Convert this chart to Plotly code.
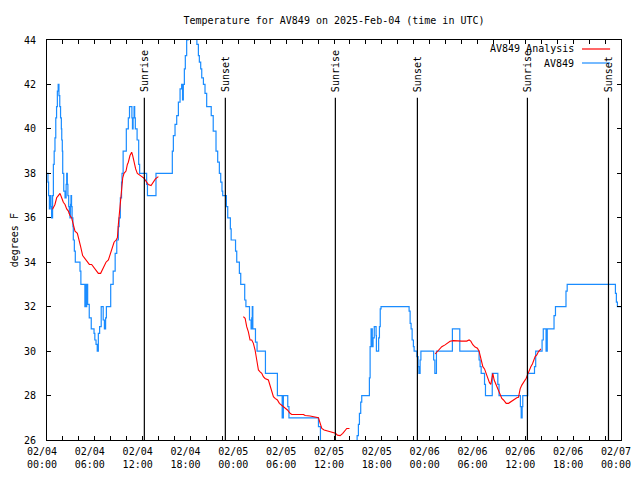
import plotly.graph_objects as go

# ---------------- data ----------------
# hours since 2025-02-04 00:00 UTC
obs_hours = [0.00, 0.12, 0.2, 0.3, 0.4, 0.5, 0.58, 0.7, 0.8, 0.9, 1.0, 1.1, 1.2, 1.3, 1.4, 1.5, 1.6, 1.7,
             1.8, 1.85, 1.92, 1.97, 2.1, 2.26, 2.4, 2.47, 2.55, 2.62, 2.72, 2.8, 2.88, 2.95, 3.01, 3.08,
             3.15, 3.25, 3.3, 3.43, 3.55, 4.14, 4.25, 4.75, 4.8, 4.9, 4.98, 5.1, 5.3, 5.55, 5.9, 6.0,
             6.15, 6.3, 6.44, 6.6, 6.8, 7.05, 7.2, 7.35, 7.45, 7.99, 8.3, 8.55, 8.75, 8.95, 9.05, 9.2,
             9.35, 9.41, 9.55, 9.95, 10.2, 10.35, 10.65, 10.72, 10.8, 10.92, 11.0, 11.08, 11.3, 11.5,
             11.62, 12.5, 12.6, 13.67, 15.72, 15.85, 16.06, 16.27, 16.48, 16.69, 16.89, 17.0, 17.1,
             17.23, 17.35, 17.52, 17.7, 18.0, 18.6, 18.8, 18.99, 19.11, 19.28, 19.41, 19.62, 19.82,
             20.03, 20.6, 20.85, 21.2, 21.41, 21.62, 21.79, 21.95, 22.04, 22.5, 22.67, 23.0, 23.1,
             23.65, 23.8, 24.13, 24.3, 24.8, 24.95, 25.4, 25.6, 25.68, 25.75, 25.82, 26.15, 26.35,
             27.4, 28.9, 29.5, 29.65, 30.2, 30.35, 34.05, 34.3, 38.9, 39.06, 39.19, 39.35, 39.48,
             40.44, 40.53, 40.65, 40.8, 40.9, 41.05, 41.28, 41.32, 41.6, 41.7, 41.8, 41.9, 45.42,
             45.55, 45.67, 45.8, 45.96, 46.05, 46.4, 46.55, 46.65, 46.8, 46.9, 48.5, 48.65, 48.85,
             50.85, 51.78, 54.2, 54.33, 54.46, 54.88, 55.0, 55.85, 56.55, 56.7, 59.38, 59.48, 59.6,
             59.68, 60.3, 61.15, 61.3, 62.1, 62.25, 62.6, 62.75, 63.6, 63.78, 65.1, 65.25, 71.3,
             71.42, 71.55, 72.0]
obs_temps = [38.0, 37.6, 37.0, 36.4, 37.0, 36.5, 36.0, 37.0, 38.4, 39.0, 39.6, 40.5, 41.0, 41.7, 42.0, 41.5, 41.0, 40.5,
             40.0, 39.5, 39.0, 38.0, 37.2, 36.9, 37.5, 38.0, 37.5, 37.0, 36.5, 36.2, 36.0, 36.6, 37.0, 36.5,
             36.0, 35.6, 35.0, 34.5, 34.0, 33.6, 33.0, 32.0, 33.0, 32.0, 33.0, 32.1, 31.5, 31.0, 30.8, 30.5,
             30.3, 30.0, 30.8, 31.1, 32.0, 31.4, 31.0, 31.5, 32.0, 33.0, 33.6, 34.4, 35.0, 35.6, 36.0, 36.9,
             37.6, 38.0, 39.0, 40.0, 40.5, 41.0, 40.5, 40.0, 40.5, 41.0, 40.5, 40.0, 39.5, 38.4,
             38.0, 37.5, 37.0, 38.0, 39.0, 39.7, 40.2, 40.6, 41.2, 41.8, 42.0, 41.3, 42.0,
             42.7, 43.3, 44.0, 44.5, 45.0, 44.5, 43.8, 43.3, 43.0, 42.7, 42.3, 42.0, 41.6,
             41.0, 40.6, 39.9, 39.0, 38.5, 38.0, 37.6, 37.2, 37.0, 36.5, 36.0, 35.5, 35.0,
             34.5, 34.0, 33.5, 33.0, 32.3, 32.0, 31.4, 31.0, 31.5, 32.0, 31.0, 30.4, 30.0,
             29.0, 28.0, 27.0, 28.0, 27.5, 27.0, 26.6, 25.0, 26.2, 26.7, 27.2, 27.7, 28.0,
             28.8, 30.2, 31.0, 30.2, 30.6, 31.1, 30.7, 30.0, 30.6, 31.1, 31.9, 32.0, 31.8,
             31.25, 31.0, 30.5, 30.2, 30.0, 29.75, 29.3, 29.0, 29.6, 30.0, 29.6, 29.0, 30.0,
             31.0, 30.0, 29.6, 29.3, 29.0, 28.5, 28.0, 29.0, 28.5, 28.0, 27.5, 27.0, 27.5,
             28.0, 29.0, 29.3, 30.0, 30.5, 31.0, 30.0, 31.0, 31.6, 32.0, 32.7, 33.0, 32.6,
             32.2, 32.0, 32.0]

ana_hours_a = [0.65, 0.71, 1.0, 1.21, 1.42, 1.63, 1.84, 2.05, 2.26, 2.47, 2.68, 2.88, 3.09, 3.3, 3.51, 3.81,
               4.06, 4.22, 4.47, 4.68, 4.98, 5.31, 5.6, 5.81, 6.15, 6.44, 6.73, 6.86, 7.07, 7.4, 7.7, 7.9,
               8.11, 8.41, 8.66, 8.83, 8.95, 9.08, 9.24, 9.37, 9.5, 9.66, 9.91, 10.08, 10.2, 10.41, 10.62,
               10.75, 10.96, 11.12, 11.33, 11.58, 11.9, 12.17, 12.45, 12.71, 13.05, 13.34, 13.6, 13.97]
ana_temps_a = [36.4, 36.4, 36.6, 36.9, 37.0, 37.1, 36.9, 36.7, 36.6, 36.4, 36.3, 36.1, 36.0, 35.7, 35.4, 35.3,
               35.0, 34.7, 34.3, 34.2, 34.1, 33.9, 33.9, 33.8, 33.6, 33.5, 33.5, 33.6, 33.8, 34.0, 34.1, 34.3,
               34.6, 34.9, 35.0, 35.1, 35.7, 36.3, 36.9, 37.2, 37.8, 38.0, 38.1, 38.4, 38.5, 38.8, 38.95,
               38.8, 38.4, 38.2, 38.0, 37.95, 37.85, 37.78, 37.65, 37.5, 37.45, 37.63, 37.75, 37.85]

ana_hours_b = [24.63, 24.85, 25.05, 25.26, 25.47, 25.68, 25.89, 26.1, 26.31, 26.52, 26.73, 26.94, 27.14,
               27.35, 27.77, 27.98, 28.19, 28.4, 28.61, 28.9, 29.15, 29.45, 29.74, 29.99, 30.16, 30.49,
               30.7, 31.33, 32.17, 32.38, 33.0, 34.05, 34.26, 34.47, 34.76, 35.31, 35.85, 36.19, 36.43,
               36.77, 37.1, 37.4, 37.6, 37.94]
ana_temps_b = [31.55, 31.48, 31.1, 30.87, 30.5, 30.5, 30.35, 30.05, 29.6, 29.15, 29.07, 29.0, 28.85,
               28.77, 28.7, 28.47, 28.25, 27.95, 27.87, 27.8, 27.65, 27.57, 27.5, 27.42, 27.35, 27.2,
               27.15, 27.15, 27.15, 27.1, 27.08, 27.0, 26.75, 26.52, 26.45, 26.4, 26.35, 26.3, 26.22,
               26.2, 26.3, 26.45, 26.52, 26.52]

ana_hours_c = [48.68, 49.1, 49.52, 49.93, 50.35, 50.56, 50.98, 51.4, 52.03, 52.65, 52.95, 53.16, 53.41,
               53.7, 53.99, 54.2, 54.33, 54.46, 54.67, 54.88, 55.08, 55.25, 55.5, 55.67, 55.92, 56.09,
               56.34, 56.55, 56.84, 57.05, 57.26, 57.6, 57.89, 58.1, 58.43, 58.73, 58.93, 59.14, 59.35,
               59.56, 59.86, 60.11, 60.27, 60.52, 60.69, 60.9, 61.11, 61.23, 61.44, 61.65, 61.86, 61.94]
ana_temps_c = [29.87, 30.02, 30.2, 30.28, 30.38, 30.44, 30.47, 30.45, 30.45, 30.45, 30.5, 30.45, 30.29,
               30.18, 30.13, 30.0, 29.78, 29.6, 29.3, 29.2, 29.0, 28.78, 28.58, 28.5, 29.0, 28.7,
               28.47, 28.3, 28.0, 27.87, 27.8, 27.65, 27.65, 27.7, 27.8, 27.88, 27.9, 27.92, 28.3,
               28.47, 28.62, 28.78, 28.93, 29.2, 29.3, 29.43, 29.6, 29.75, 29.83, 29.98, 30.05, 30.1]

sun_hours = [12.21, 22.37, 36.17, 46.46, 60.26, 70.43]
sun_labels = ["Sunrise", "Sunset", "Sunrise", "Sunset", "Sunrise", "Sunset"]

tick_hours = [0, 6, 12, 18, 24, 30, 36, 42, 48, 54, 60, 66, 72]
tick_labels = ["02/04<br>00:00", "02/04<br>06:00", "02/04<br>12:00", "02/04<br>18:00",
               "02/05<br>00:00", "02/05<br>06:00", "02/05<br>12:00", "02/05<br>18:00",
               "02/06<br>00:00", "02/06<br>06:00", "02/06<br>12:00", "02/06<br>18:00",
               "02/07<br>00:00"]

title_text = "Temperature for AV849 on 2025-Feb-04 (time in UTC)"

# ---------------- figure ----------------
FONT = "DejaVu Sans Mono"
FS = 10
BLUE = "#1a8cff"
RED = "#ff0000"
W, H = 632, 472   # page body adds an 8 px offset in the 640x480 window

fig = go.Figure()
fig.add_trace(go.Scatter(x=obs_hours, y=obs_temps, mode="lines", line=dict(color=BLUE, width=1.2, shape="hv"),
                         name="AV849", showlegend=False))
for hx, ty in [(ana_hours_a, ana_temps_a), (ana_hours_b, ana_temps_b), (ana_hours_c, ana_temps_c)]:
    fig.add_trace(go.Scatter(x=hx, y=ty, mode="lines", line=dict(color=RED, width=1.1),
                             name="AV849 Analysis", showlegend=False))

y_top_line = 41.4
for h, lab in zip(sun_hours, sun_labels):
    fig.add_shape(type="line", x0=h, x1=h, y0=26, y1=y_top_line, xref="x", yref="y",
                  line=dict(color="black", width=1.2))
    fig.add_annotation(x=h, y=y_top_line, xref="x", yref="y", text=lab, textangle=-90,
                       showarrow=False, xanchor="center", yanchor="bottom", yshift=4,
                       font=dict(family=FONT, size=FS, color="black"))

# legend drawn manually (text right aligned with sample on the right)
leg = [("AV849 Analysis", RED, 0.9775), ("AV849", BLUE, 0.9425)]
for txt, col, yy in leg:
    fig.add_annotation(x=0.921, y=yy, xref="paper", yref="paper", text=txt, showarrow=False,
                       xanchor="right", yanchor="middle", font=dict(family=FONT, size=FS, color="black"))
    fig.add_shape(type="line", x0=0.932, x1=0.981, y0=yy, y1=yy, xref="paper", yref="paper",
                  line=dict(color=col, width=1.2))

fig.add_annotation(x=-0.057, y=0.5, xref="paper", yref="paper", text="degrees F", textangle=-90,
                   showarrow=False, xanchor="center", yanchor="middle", borderpad=0,
                   font=dict(family=FONT, size=FS, color="black"))

fig.update_layout(
    width=W, height=H,
    margin=dict(l=39, r=19, t=32, b=40, autoexpand=False),
    paper_bgcolor="white", plot_bgcolor="white",
    title=dict(text=title_text, x=0.5, xref="paper", y=1 - 12 / H, yref="container",
               xanchor="center", yanchor="middle", automargin=False,
               font=dict(family=FONT, size=FS, color="black")),
    font=dict(family=FONT, size=FS, color="black"),
    showlegend=False,
)
fig.update_xaxes(range=[0, 72], tickvals=tick_hours, ticktext=tick_labels, ticks="inside", ticklen=4,
                 tickcolor="black", showline=True, linecolor="black", linewidth=1, mirror="ticks",
                 showgrid=False, zeroline=False, automargin=False, ticklabelshift=-5,
                 ticklabelstandoff=2,
                 minor=dict(dtick=2, tick0=0, ticks="inside", ticklen=4, tickcolor="black", showgrid=False),
                 tickfont=dict(family=FONT, size=FS))
fig.update_yaxes(range=[26, 44], dtick=2, tick0=26, ticks="inside", ticklen=4, tickcolor="black",
                 showline=True, linecolor="black", linewidth=1, mirror="ticks", showgrid=False,
                 zeroline=False, automargin=False, ticklabelstandoff=8,
                 tickfont=dict(family=FONT, size=FS))

fig.write_html("out.html")
